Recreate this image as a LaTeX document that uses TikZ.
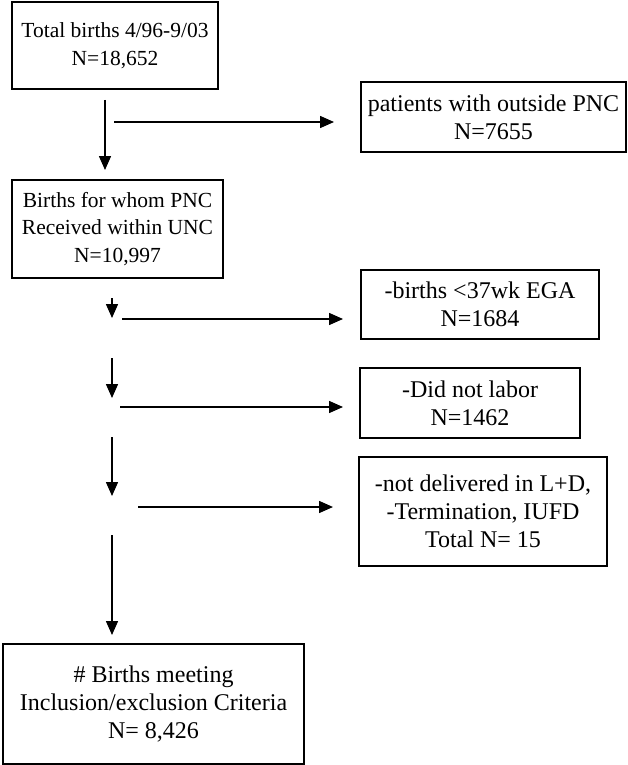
\documentclass[tikz,border=0pt]{standalone}
\usepackage{fontspec}
\setmainfont{Liberation Serif}
\usetikzlibrary{arrows.meta}
\begin{document}
\begin{tikzpicture}[x=1pt,y=-1pt,
  box/.style={draw=black, line width=1.4pt, inner sep=0pt, align=center},
  smalltext/.style={font=\fontsize{21.5}{27.5}\selectfont},
  bigtext/.style={font=\fontsize{24}{28}\selectfont},
  flow/.style={line width=1.5pt, -{Triangle[length=14pt,width=12pt]}}]
\useasboundingbox (0,0) rectangle (628,765);
\node[box,smalltext,minimum width=206pt,minimum height=87pt] (n1) at (115,45.5) {Total births 4/96-9/03\\N=18,652};
\node[box,bigtext,minimum width=265pt,minimum height=70pt] (n2) at (493.5,117) {patients with outside PNC\\N=7655};
\node[box,smalltext,minimum width=211pt,minimum height=98pt] (n3) at (117.5,229) {Births for whom PNC\\Received within UNC\\N=10,997};
\node[box,bigtext,minimum width=238pt,minimum height=69pt] (n4) at (480,304.5) {-births {<}37wk EGA\\N=1684};
\node[box,bigtext,minimum width=220pt,minimum height=70pt] (n5) at (470,403) {-Did not labor\\N=1462};
\node[box,bigtext,minimum width=248pt,minimum height=109pt] (n6) at (483,511.5) {-not delivered in L+D,\\-Termination, IUFD\\Total N= 15};
\node[box,bigtext,minimum width=301pt,minimum height=120pt] (n7) at (153.5,704) {\# Births meeting\\Inclusion/exclusion Criteria\\N= 8,426};
% free ends
\coordinate (v1s) at (105,100); \coordinate (v1e) at (105,170);
\coordinate (h1s) at (114,122); \coordinate (h1e) at (334,122);
\coordinate (v2s) at (112,298); \coordinate (v2e) at (112,318);
\coordinate (h2s) at (122,319); \coordinate (h2e) at (343,319);
\coordinate (v3s) at (112,358); \coordinate (v3e) at (112,398);
\coordinate (h3s) at (120,407); \coordinate (h3e) at (343,407);
\coordinate (v4s) at (112,437); \coordinate (v4e) at (112,496);
\coordinate (h4s) at (138,507); \coordinate (h4e) at (333,507);
\coordinate (v5s) at (112,535); \coordinate (v5e) at (112,635);
\draw[flow] (v1s) -- (v1e);
\draw[flow] (h1s) -- (h1e);
\draw[flow] (v2s) -- (v2e);
\draw[flow] (h2s) -- (h2e);
\draw[flow] (v3s) -- (v3e);
\draw[flow] (h3s) -- (h3e);
\draw[flow] (v4s) -- (v4e);
\draw[flow] (h4s) -- (h4e);
\draw[flow] (v5s) -- (v5e);
\end{tikzpicture}
\end{document}
